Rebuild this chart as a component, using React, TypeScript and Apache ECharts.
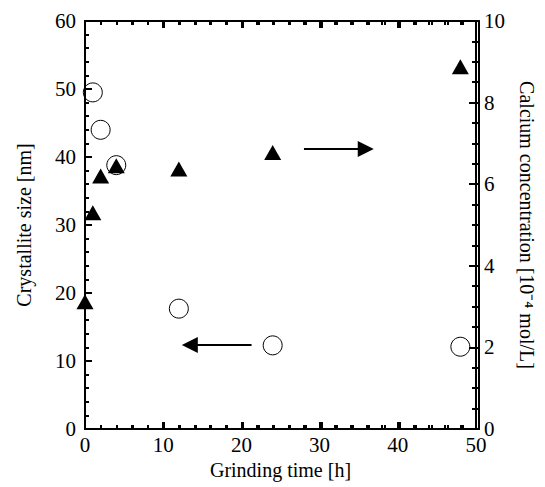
import React, { useEffect, useRef } from "react";
import * as echarts from "echarts";

const grindingTime = [0, 1, 2, 4, 12, 24, 48];
const crystalliteTime = [1, 2, 4, 12, 24, 48];
const crystalliteSize = [49.5, 44.0, 38.8, 17.7, 12.3, 12.1];
const calciumConc = [3.12, 5.3, 6.2, 6.45, 6.37, 6.78, 8.88];
// arrows: [fromX, toX, y]
const leftArrow = [21.3, 13.4, 12.35];
const rightArrow = [28.0, 35.9, 6.86];

const FONT = "'Liberation Serif', 'Times New Roman', serif";
const GRID = { left: 85, right: 66, top: 21, bottom: 58 };

function makeAxis(min: number, max: number, interval: number, split: number, extra: any) {
  return {
    type: "value",
    min,
    max,
    interval,
    axisLine: { show: true, onZero: false, lineStyle: { color: "#000", width: 2 } },
    axisTick: { show: true, inside: true, length: 7, lineStyle: { color: "#000", width: 2 } },
    minorTick: { show: true, splitNumber: split, length: 4, lineStyle: { color: "#000", width: 2 } },
    splitLine: { show: false },
    axisLabel: { color: "#000", fontFamily: FONT, fontSize: 21 },
    nameTextStyle: { color: "#000", fontFamily: FONT, fontSize: 20 },
    ...extra,
  };
}

function tickAxis(min: number, max: number, interval: number, split: number, position: string) {
  return {
    type: "value",
    min,
    max,
    interval,
    position,
    axisLine: { show: true, onZero: false, lineStyle: { color: "#000", width: 2 } },
    axisTick: { show: true, inside: true, length: 7, lineStyle: { color: "#000", width: 2 } },
    minorTick: { show: true, splitNumber: split, length: 4, lineStyle: { color: "#000", width: 2 } },
    splitLine: { show: false },
    axisLabel: { show: false },
  };
}

export default function App() {
  const tickRef = useRef<HTMLDivElement>(null);
  const ref = useRef<HTMLDivElement>(null);
  useEffect(() => {
    document.body.style.margin = "0";
    // frame + ticks layer
    const tickChart = echarts.init(tickRef.current!, null, { renderer: "svg" });
    tickChart.setOption({
      animation: false,
      grid: GRID,
      xAxis: [tickAxis(0, 50, 10, 5, "bottom"), tickAxis(0, 50, 10, 5, "top")],
      yAxis: [tickAxis(0, 60, 10, 5, "left"), tickAxis(0, 10, 2, 4, "right")],
      series: [{ type: "scatter", data: [] }],
    });
    // labels, names and data layer
    const chart = echarts.init(ref.current!, null, { renderer: "svg" });
    chart.setOption({
      animation: false,
      backgroundColor: "transparent",
      grid: GRID,
      xAxis: [
        makeAxis(0, 50, 10, 5, {
          position: "bottom",
          axisLabel: { color: "#000", fontFamily: FONT, fontSize: 21, margin: 5 },
          name: "Grinding time [h]",
          nameLocation: "middle",
          nameGap: 31,
        }),
        makeAxis(0, 50, 10, 5, {
          position: "top",
          axisLabel: { show: false },
        }),
      ],
      yAxis: [
        makeAxis(0, 60, 10, 5, {
          position: "left",
          axisLabel: { color: "#000", fontFamily: FONT, fontSize: 21, margin: 9 },
          name: "Crystallite size [nm]",
          nameLocation: "middle",
          nameGap: 51,
        }),
        makeAxis(0, 10, 2, 4, {
          position: "right",
          axisLabel: { color: "#000", fontFamily: FONT, fontSize: 21, margin: 8 },
          name: "Calcium concentration [10\u207B\u2074 mol/L]",
          nameLocation: "middle",
          nameRotate: -90,
          nameGap: 41,
        }),
      ],
      series: [
        {
          type: "scatter",
          xAxisIndex: 0,
          yAxisIndex: 0,
          symbol: "circle",
          symbolSize: 19,
          itemStyle: { color: "none", borderColor: "#000", borderWidth: 1, opacity: 1 },
          data: crystalliteTime.map((t, i) => [t, crystalliteSize[i]]),
          z: 2,
          markLine: {
            silent: true,
            symbol: ["none", "triangle"],
            symbolSize: [16, 16],
            label: { show: false },
            lineStyle: { color: "#000", width: 2, type: "solid" },
            data: [
              [
                { coord: [leftArrow[0], leftArrow[2]] },
                { coord: [leftArrow[1], leftArrow[2]] },
              ],
            ],
          },
        },
        {
          type: "scatter",
          xAxisIndex: 0,
          yAxisIndex: 1,
          symbol: "triangle",
          symbolSize: [17, 15],
          itemStyle: { color: "#000", opacity: 1 },
          data: grindingTime.map((t, i) => [t, calciumConc[i]]),
          z: 3,
          markLine: {
            silent: true,
            symbol: ["none", "triangle"],
            symbolSize: [16, 16],
            label: { show: false },
            lineStyle: { color: "#000", width: 2, type: "solid" },
            data: [
              [
                { coord: [rightArrow[0], rightArrow[2]] },
                { coord: [rightArrow[1], rightArrow[2]] },
              ],
            ],
          },
        },
      ],
    });
    return () => {
      chart.dispose();
      tickChart.dispose();
    };
  }, []);
  return (
    <div style={{ position: "relative", width: 545, height: 487 }}>
      <div ref={tickRef} style={{ position: "absolute", left: 0, top: 0, width: 545, height: 487 }} />
      <div ref={ref} style={{ position: "absolute", left: 0, top: 0, width: 545, height: 487 }} />
    </div>
  );
}
